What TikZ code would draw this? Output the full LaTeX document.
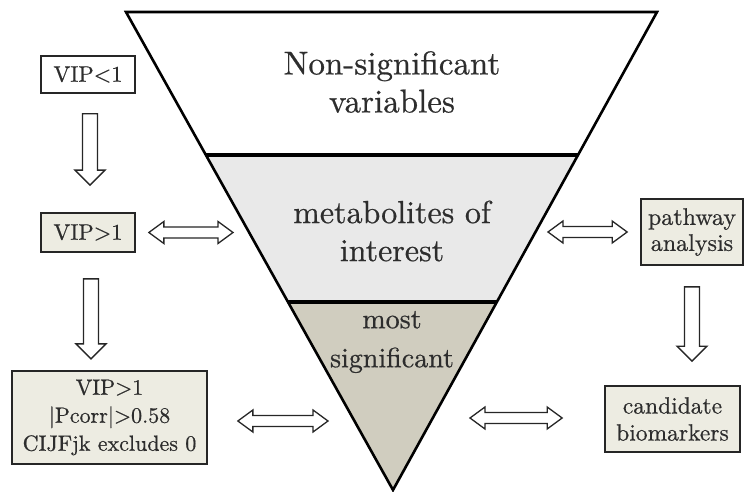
\documentclass[tikz,border=0pt]{standalone}
\usepackage{fontspec}
\setmainfont{lmroman10-regular.otf}[FakeBold=0.6]
\usetikzlibrary{calc}
\definecolor{midgray}{RGB}{233,233,233}
\definecolor{lowfill}{RGB}{208,205,191}
\definecolor{boxfill}{RGB}{237,236,226}
\definecolor{txt}{RGB}{45,45,45}
\tikzset{
  boxnode/.style={draw=black!85, line width=1.7pt, fill=boxfill, inner sep=0pt, align=center, text=txt,
    font=\fontsize{22.5}{26}\selectfont},
  bigtext/.style={align=center, text=txt, font=\fontsize{33}{38}\selectfont},
  medtext/.style={align=center, text=txt, font=\fontsize{32}{38}\selectfont},
  midtext/.style={align=center, text=txt, font=\fontsize{28}{39}\selectfont},
  blockarrow/.style={draw=black!85, line width=1.3pt, fill=white, line join=miter},
  edge/.style={line width=2.6pt, line join=miter},
  divider/.style={line width=3.6pt}
}
\newcommand{\vblockarrow}[2]{\draw[blockarrow] let \p1=(#1), \p2=(#2) in
 (\x1-7.5pt,\y1) -- (\x1+7.5pt,\y1) -- (\x1+7.5pt,\y2+15pt) -- (\x1+15pt,\y2+15pt) -- (\x1,\y2)
 -- (\x1-15pt,\y2+15pt) -- (\x1-7.5pt,\y2+15pt) -- cycle;}
\newcommand{\hblockarrow}[2]{\draw[blockarrow] let \p1=(#1), \p2=(#2) in
 (\x1,\y1) -- (\x1+15pt,\y1+11pt) -- (\x1+15pt,\y1+5.5pt) -- (\x2-15pt,\y1+5.5pt) -- (\x2-15pt,\y1+11pt)
 -- (\x2,\y1) -- (\x2-15pt,\y1-11pt) -- (\x2-15pt,\y1-5.5pt) -- (\x1+15pt,\y1-5.5pt) -- (\x1+15pt,\y1-11pt) -- cycle;}
\begin{document}
\begin{tikzpicture}[x=1pt,y=-1pt]
\useasboundingbox (0,0) rectangle (745,492);
% funnel
\coordinate (TL) at (126,12);
\coordinate (TR) at (657,12);
\coordinate (B) at (393,490);
\coordinate (L1) at ($(TL)!0.299!(B)$);
\coordinate (R1) at ($(TR)!0.299!(B)$);
\coordinate (L2) at ($(TL)!0.607!(B)$);
\coordinate (R2) at ($(TR)!0.607!(B)$);
\fill[white] (TL) -- (TR) -- (R1) -- (L1) -- cycle;
\fill[midgray] (L1) -- (R1) -- (R2) -- (L2) -- cycle;
\fill[lowfill] (L2) -- (R2) -- (B) -- cycle;
\draw[divider] (L1) -- (R1);
\draw[divider] (L2) -- (R2);
\draw[edge] (TL) -- (TR) -- (B) -- cycle;
\node[bigtext] (t1) at (392,82) {Non-significant\\variables};
\node[medtext] (t2) at (392,231) {metabolites of\\interest};
\node[midtext] (t3) at (392,342) {most\\significant};
% left boxes
\node[boxnode, minimum width=94pt, minimum height=37pt, fill=white] (vipa) at (88,74.5) {VIP\textless 1};
\node[boxnode, minimum width=94pt, minimum height=39pt] (vipb) at (88,232.5) {VIP\textgreater 1};
\node[boxnode, minimum width=195pt, minimum height=93pt, font=\fontsize{22}{28}\selectfont] (crit) at (109.5,417.5)
  {VIP\textgreater 1\\\textbar Pcorr\textbar\textgreater 0.58\\CIJFjk excludes 0};
% right boxes
\node[boxnode, minimum width=102pt, minimum height=66pt, font=\fontsize{24}{26}\selectfont] (path) at (692,232) {pathway\\analysis};
\node[boxnode, minimum width=135pt, minimum height=66pt, font=\fontsize{23.5}{27}\selectfont] (cand) at (672.5,419) {candidate\\biomarkers};
% arrow end points
\coordinate (a1s) at ($(vipa.south)+(2,20)$);
\coordinate (a1e) at ($(vipb.north)+(2,-27)$);
\coordinate (a2s) at ($(vipb.south)+(3,26)$);
\coordinate (a2e) at ($(vipb.south)+(3,106)$);
\coordinate (a3s) at ($(path.south)+(0,21)$);
\coordinate (a3e) at ($(cand.north)+(19.5,-24)$);
\coordinate (h1s) at ($(vipb.east)+(13,0)$);
\coordinate (h1e) at (233,233);
\coordinate (h2s) at ($(crit.east)+(30,3.5)$);
\coordinate (h2e) at (328,421);
\coordinate (h3s) at (548,232);
\coordinate (h3e) at ($(path.west)+(-13,0)$);
\coordinate (h4s) at (470,418);
\coordinate (h4e) at ($(cand.west)+(-42,-1)$);
\vblockarrow{a1s}{a1e}
\vblockarrow{a2s}{a2e}
\vblockarrow{a3s}{a3e}
\hblockarrow{h1s}{h1e}
\hblockarrow{h2s}{h2e}
\hblockarrow{h3s}{h3e}
\hblockarrow{h4s}{h4e}
\end{tikzpicture}
\end{document}
